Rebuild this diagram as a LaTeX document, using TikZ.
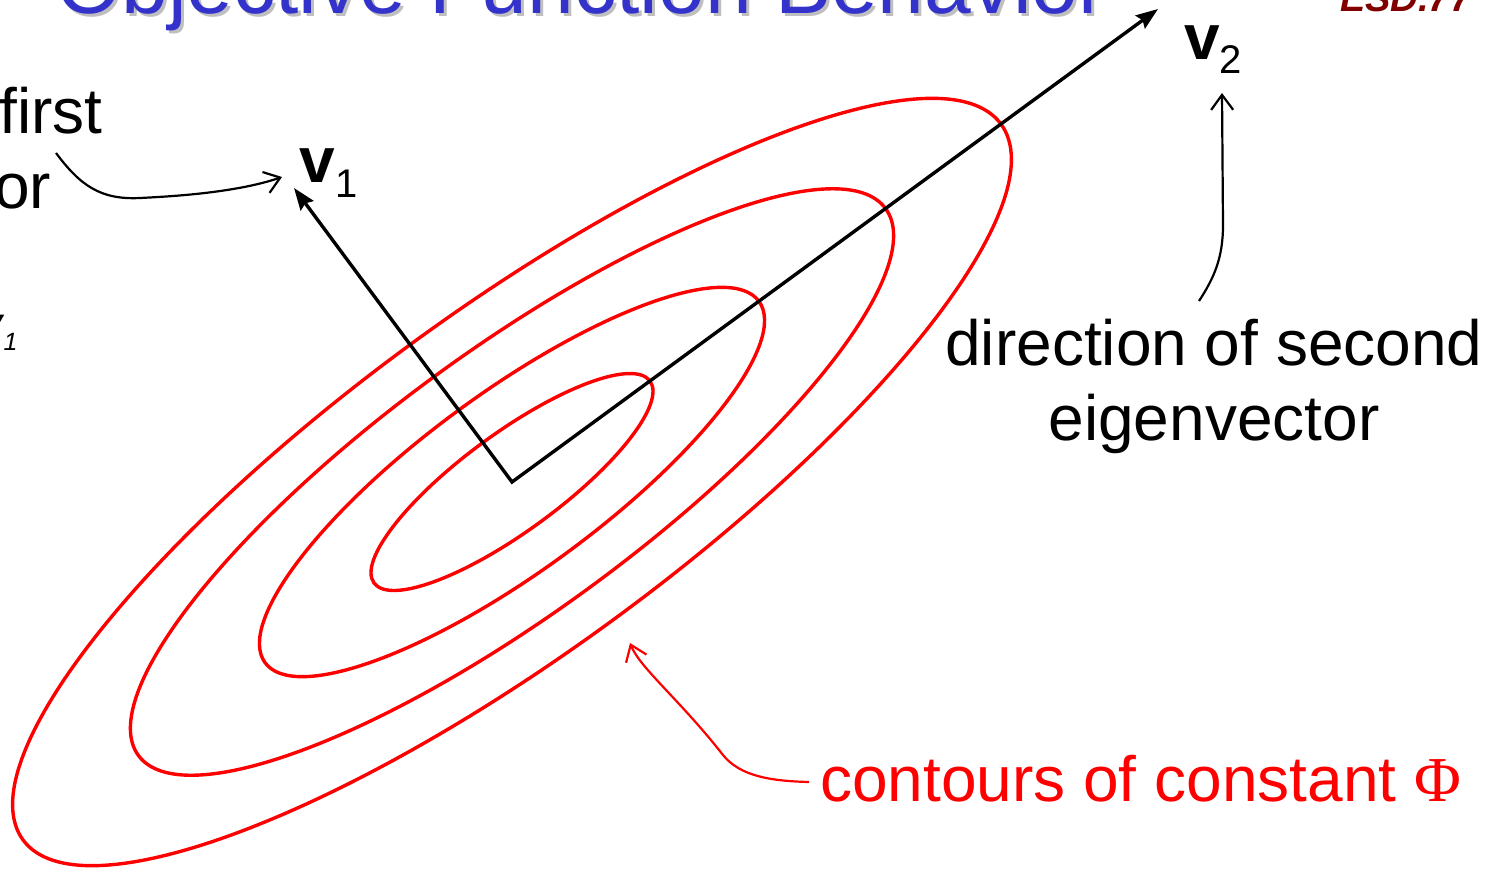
\documentclass[tikz,border=0pt]{standalone}
\usepackage{fontspec}
\setmainfont{Liberation Sans}
\newfontfamily\phifont{Liberation Serif}
\usetikzlibrary{arrows.meta,calc}
\definecolor{titleblue}{RGB}{51,51,204}
\definecolor{logored}{RGB}{128,0,0}
\begin{document}
\begin{tikzpicture}[x=1pt,y=1pt,
  contour/.style={draw=red,line width=3.4pt},
  vecline/.style={draw=black,line width=3.4pt,line join=miter,
    {Stealth[length=22pt,width=16pt,inset=3pt]}-{Stealth[length=22pt,width=16pt,inset=3pt]}},
  leader/.style={line width=2.2pt,-{Straight Barb[length=15pt,width=22pt]}},
  body/.style={inner sep=0pt,font=\fontsize{64}{75}\selectfont},
  veclabel/.style={inner sep=0pt,anchor=base west,font=\fontsize{64}{75}\selectfont}
]
\useasboundingbox (0,0) rectangle (1497,-868);
\fill[white] (0,0) rectangle (1497,-868);
\clip (0,0) rectangle (1497,-868);

% title (cut off at the top) with its shadow
\node[inner sep=0pt,anchor=base west,text=black!25,font=\fontsize{84}{100}\selectfont] (titleshadow) at (59,-16) {Objective Function Behavior};
\node[inner sep=0pt,anchor=base west,text=titleblue,font=\fontsize{84}{100}\selectfont] (title) at (56,-13) {Objective Function Behavior};

% logo fragment
\node[inner sep=0pt,anchor=base west,text=logored,font=\fontsize{38}{38}\selectfont\bfseries\itshape] (logo) at (1340,-11) {ESD.77};

% contours
\coordinate (o) at (512,-482);
\foreach \a/\b in {171/49,306/89.5,463/131,606/171}{
  \draw[contour,rotate around={36.2:(o)}] (o) ellipse [x radius=\a pt, y radius=\b pt];
}

% eigenvectors
\coordinate (v1tip) at (294,-188);
\coordinate (v2tip) at (1158,-9);
\draw[vecline] (v1tip) -- (o) -- (v2tip);

% vector labels
\node[veclabel] (v1lab) at (299.5,-182) {\textbf{v}\raisebox{-15pt}{\fontsize{40}{40}\selectfont 1}};
\node[veclabel] (v2lab) at (1184,-59) {\textbf{v}\raisebox{-14pt}{\fontsize{40}{40}\selectfont 2}};

% left text (cut off)
\node[body,anchor=base east] (first1) at (103,-133) {direction of first};
\node[body,anchor=base] (first2) at ($(first1.base)+(0,-75)$) {eigenvector};
\node[inner sep=0pt,anchor=base east,font=\fontsize{48}{48}\selectfont\itshape] (frag) at (3,-340) {v};
\node[inner sep=0pt,anchor=base west,font=\fontsize{25}{25}\selectfont\itshape] (fragsub) at (3.5,-350) {1};

% right text
\node[body,anchor=base] (second1) at (1214,-365) {direction of second};
\node[body,anchor=base] (second2) at (1214,-440) {eigenvector};

% bottom text
\node[body,anchor=base west,text=red] (contlab) at (820,-801) {contours of constant {\phifont Φ}};

% leaders
\coordinate (l1s) at (56,-153);
\coordinate (l1e) at (282,-177);
\draw[leader] (l1s) .. controls (80,-185) and (100,-200) .. (140,-198)
  .. controls (170,-196.5) and (235,-193) .. (l1e);

\coordinate (l2s) at (1199,-301);
\coordinate (l2e) at (1222,-93);
\draw[leader] (l2s) .. controls (1214,-278) and (1223,-258) .. (1223,-225) -- (l2e);

\coordinate (l3s) at (809,-782);
\coordinate (l3e) at (630,-643);
\draw[leader,red] (l3s) .. controls (770,-781) and (740,-776) .. (723,-755)
  .. controls (680,-700) and (640,-668) .. (l3e);
\end{tikzpicture}
\end{document}
